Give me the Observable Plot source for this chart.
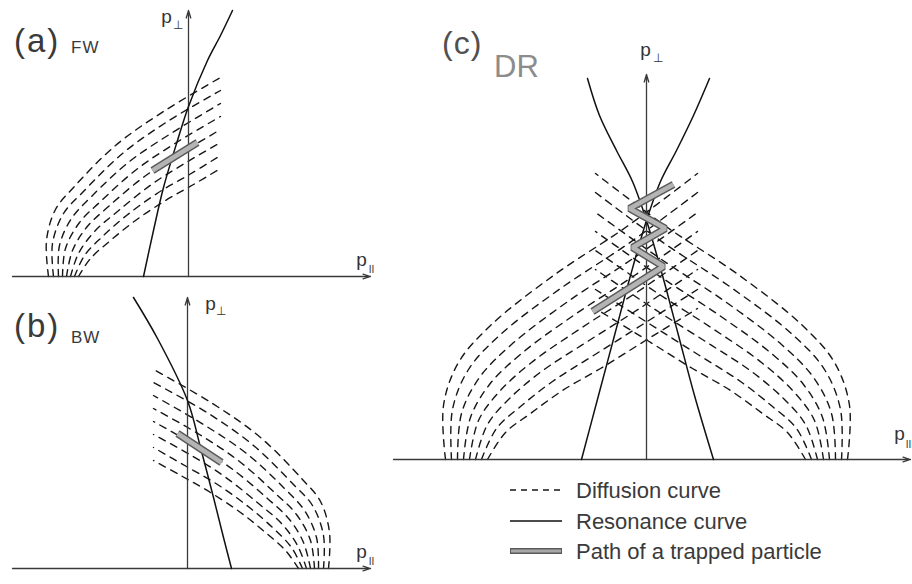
<!DOCTYPE html>
<html><head><meta charset="utf-8">
<script src="https://cdn.jsdelivr.net/npm/d3@7"></script>
<script src="https://cdn.jsdelivr.net/npm/@observablehq/plot@0.6"></script>
<style>
html,body{margin:0;padding:0;background:#fff;}
#fig{position:relative;width:912px;height:584px;overflow:hidden;font-family:"Liberation Sans",Arial,Helvetica,sans-serif;}
.panel{position:absolute;}
.panel svg{overflow:visible;}
.lbl{position:absolute;white-space:nowrap;line-height:1;}
</style></head><body><div id="fig"></div>
<script>
// ---------- data (p_parallel, p_perp in arbitrary units) ----------
const panelTags = ["(a)", "(b)", "(c)"];
const waveTags = ["FW", "BW", "DR"];
const legendLabels = ["Diffusion curve", "Resonance curve", "Path of a trapped particle"];

// axis extents: [p_par min, p_par max, p_perp max]
const fwAxes = [-17.6, 18.2, 26.6];
const bwAxes = [-17.5, 18.3, 27.1];
const drAxes = [-25.3, 26.4, 38.5];

// (a) forward wave
const fwDiffusion = [
  [[-14.0,0],[-14.2,3.6],[-13.3,6.7],[-11.5,8.9],[-7.3,13.1],[-2.5,16.5],[3.2,19.9]],
  [[-13.5,0],[-13.6,3.3],[-12.5,6.3],[-10.6,8.4],[-6.6,12.3],[-2.1,15.5],[3.2,18.6]],
  [[-13.0,0],[-12.9,3.1],[-11.7,5.8],[-9.7,8.0],[-5.9,11.5],[-1.6,14.4],[3.2,17.3]],
  [[-12.6,0],[-12.3,2.8],[-10.9,5.4],[-8.8,7.5],[-5.2,10.7],[-1.2,13.4],[3.2,16.0]],
  [[-12.2,0],[-11.6,2.6],[-10.2,4.9],[-8.0,7.0],[-4.4,10.0],[-0.8,12.3],[3.2,14.7]],
  [[-11.8,0],[-11.0,2.3],[-9.4,4.5],[-7.1,6.5],[-3.7,9.2],[-0.4,11.3],[3.2,13.4]],
  [[-11.4,0],[-10.4,2.1],[-8.6,4.0],[-6.2,6.1],[-3.0,8.4],[0.1,10.2],[3.2,12.1]],
  [[-11.0,0],[-9.8,1.8],[-7.8,3.6],[-5.3,5.6],[-2.3,7.6],[0.5,9.2],[3.2,10.8]]
];
const fwResonance = [[-4.5,0],[-3.5,4.6],[-2.5,8.9],[-1.1,13.6],[0,17.0],[1.9,21.6],[3.2,24.1],[4.4,26.6]];
const fwPath = [[-3.6,10.6],[0.9,13.4]];

// (b) backward wave
const bwDiffusion = [
  [[14.1,0],[14.2,3.6],[13.3,6.7],[11.5,8.9],[7.3,13.1],[2.5,16.5],[-3.4,19.9]],
  [[13.6,0],[13.6,3.3],[12.5,6.3],[10.6,8.4],[6.6,12.3],[2.1,15.5],[-3.4,18.6]],
  [[13.1,0],[12.9,3.1],[11.7,5.8],[9.7,8.0],[5.9,11.5],[1.6,14.4],[-3.4,17.3]],
  [[12.7,0],[12.3,2.8],[10.9,5.4],[8.8,7.5],[5.2,10.7],[1.2,13.4],[-3.4,16.0]],
  [[12.3,0],[11.6,2.6],[10.2,4.9],[8.0,7.0],[4.4,10.0],[0.8,12.3],[-3.4,14.7]],
  [[11.9,0],[11.0,2.3],[9.4,4.5],[7.1,6.5],[3.7,9.2],[0.4,11.3],[-3.4,13.4]],
  [[11.5,0],[10.4,2.1],[8.6,4.0],[6.2,6.1],[3.0,8.4],[-0.1,10.2],[-3.4,12.1]],
  [[11.1,0],[9.8,1.8],[7.8,3.6],[5.3,5.6],[2.3,7.6],[-0.5,9.2],[-3.4,10.8]]
];
const bwResonance = [[-5.4,27.1],[-3.0,23.0],[0,16.8],[1.3,12.1],[2.6,7.1],[3.6,3.1],[4.4,0]];
const bwPath = [[-1.0,13.5],[3.4,10.6]];

// (c) distributed resonance
const drDiffusionLeft = [
  [[-20.1,0],[-20.3,5.4],[-18.8,9.7],[-15.6,13.4],[-9.3,18.4],[-2.1,23.2],[5.1,28.6]],
  [[-19.5,0],[-19.4,5.0],[-17.8,9.0],[-14.6,12.5],[-8.6,17.1],[-1.8,21.6],[5.1,26.7]],
  [[-18.9,0],[-18.5,4.6],[-16.7,8.2],[-13.5,11.5],[-8.0,15.7],[-1.5,20.0],[5.1,24.7]],
  [[-18.3,0],[-17.6,4.2],[-15.7,7.5],[-12.5,10.6],[-7.3,14.4],[-1.2,18.4],[5.1,22.8]],
  [[-17.7,0],[-16.8,3.9],[-14.7,6.8],[-11.5,9.7],[-6.6,13.1],[-1.0,16.7],[5.1,20.9]],
  [[-17.1,0],[-15.9,3.5],[-13.7,6.1],[-10.5,8.8],[-5.9,11.8],[-0.7,15.1],[5.1,19.0]],
  [[-16.5,0],[-15.0,3.1],[-12.6,5.3],[-9.4,7.8],[-5.3,10.4],[-0.4,13.5],[5.1,17.0]],
  [[-15.9,0],[-14.1,2.7],[-11.6,4.6],[-8.4,6.9],[-4.6,9.1],[-0.1,11.9],[5.1,15.1]]
];
const drDiffusionRight = [
  [[20.1,0],[20.3,5.4],[18.8,9.7],[15.6,13.4],[9.3,18.4],[2.1,23.2],[-5.1,28.6]],
  [[19.5,0],[19.4,5.0],[17.8,9.0],[14.6,12.5],[8.6,17.1],[1.8,21.6],[-5.1,26.7]],
  [[18.9,0],[18.5,4.6],[16.7,8.2],[13.5,11.5],[8.0,15.7],[1.5,20.0],[-5.1,24.7]],
  [[18.3,0],[17.6,4.2],[15.7,7.5],[12.5,10.6],[7.3,14.4],[1.2,18.4],[-5.1,22.8]],
  [[17.7,0],[16.8,3.9],[14.7,6.8],[11.5,9.7],[6.6,13.1],[1.0,16.7],[-5.1,20.9]],
  [[17.1,0],[15.9,3.5],[13.7,6.1],[10.5,8.8],[5.9,11.8],[0.7,15.1],[-5.1,19.0]],
  [[16.5,0],[15.0,3.1],[12.6,5.3],[9.4,7.8],[5.3,10.4],[0.4,13.5],[-5.1,17.0]],
  [[15.9,0],[14.1,2.7],[11.6,4.6],[8.4,6.9],[4.6,9.1],[0.1,11.9],[-5.1,15.1]]
];
const drResonanceUp = [[-6.5,0],[-4.8,6.4],[-3.2,12.4],[-1.6,18.4],[0,23.9],[1.4,27.8],[3.0,30.9],[4.7,34.4],[6.3,38.1]];
const drResonanceDown = [[6.7,0],[4.8,6.4],[3.2,12.4],[1.6,18.4],[0,23.9],[-1.4,27.8],[-3.0,30.9],[-4.7,34.4],[-5.9,38.1]];
const drPath = [[2.7,27.5],[-1.7,25.1],[1.9,23.1],[-1.4,21.2],[1.7,19.3],[-5.4,14.8]];

// ---------- drawing ----------
const FONT = '"Liberation Sans", Arial, Helvetica, sans-serif';
const rows = curves => curves.flatMap((c, i) => c.map(([x, y]) => ({x, y, id: i})));
const pts = c => c.map(([x, y]) => ({x, y}));

function panel(o) {
  const [xMin, xMax, yMax] = o.axes;
  const txt = {fill: "#333", lineAnchor: "bottom", textAnchor: "middle"};
  const marks = [
    Plot.line(rows(o.diffusion), {x: "x", y: "y", z: "id", curve: "catmull-rom",
      stroke: "#161616", strokeWidth: 1.4, strokeDasharray: "7,6"}),
    Plot.arrow([{x1: xMin, y1: 0, x2: xMax, y2: 0}], {x1: "x1", y1: "y1", x2: "x2", y2: "y2",
      stroke: "#3a3a3a", strokeWidth: 1.3, headLength: 9, headAngle: 34}),
    Plot.arrow([{x1: 0, y1: 0, x2: 0, y2: yMax}], {x1: "x1", y1: "y1", x2: "x2", y2: "y2",
      stroke: "#3a3a3a", strokeWidth: 1.3, headLength: 9, headAngle: 34}),
    ...o.resonances.map(r => Plot.line(pts(r), {x: "x", y: "y", curve: "catmull-rom",
      stroke: "#111", strokeWidth: 1.5})),
    Plot.line(pts(o.path), {x: "x", y: "y", stroke: "#5a5a5a", strokeWidth: 7.5, strokeLinejoin: "miter", strokeLinecap: "butt"}),
    Plot.line(pts(o.path), {x: "x", y: "y", stroke: "#b4b4b4", strokeWidth: 4.5, strokeLinejoin: "miter", strokeLinecap: "butt"}),
    // axis labels
    Plot.text([{x: 0, y: yMax, t: "p"}], {x: "x", y: "y", text: "t", dx: o.perp[0], dy: o.perp[1], fontSize: 19, ...txt}),
    Plot.text([{x: 0, y: yMax, t: "\u22A5"}], {x: "x", y: "y", text: "t", dx: o.perp[2], dy: o.perp[3], fontSize: 12, ...txt}),
    Plot.text([{x: xMax, y: 0, t: "p"}], {x: "x", y: "y", text: "t", dx: o.par[0], dy: o.par[1], fontSize: 19, ...txt}),
    Plot.text([{x: xMax, y: 0, t: "II"}], {x: "x", y: "y", text: "t", dx: o.par[2], dy: o.par[3], fontSize: 10, ...txt})
  ];
  const svg = Plot.plot({
    width: o.width, height: o.height, margin: 0,
    x: {domain: o.xDomain, axis: null},
    y: {domain: o.yDomain, axis: null},
    style: {fontFamily: FONT, background: "transparent", overflow: "visible"},
    marks
  });
  const div = document.createElement("div");
  div.className = "panel";
  div.style.left = o.left + "px";
  div.style.top = o.top + "px";
  div.appendChild(svg);
  document.getElementById("fig").appendChild(div);
}

panel({left: 0, top: 0, width: 380, height: 290, xDomain: [-18.8, 19.2], yDomain: [-1.4, 27.6],
  axes: fwAxes, diffusion: fwDiffusion, resonances: [fwResonance], path: fwPath,
  perp: [-22, 12, -11, 18], par: [-9, -11, 1, -4]});
panel({left: 0, top: 295, width: 380, height: 289, xDomain: [-18.7, 19.3], yDomain: [-1.6, 27.3],
  axes: bwAxes, diffusion: bwDiffusion, resonances: [bwResonance], path: bwPath,
  perp: [23, 12, 33, 17], par: [-9, -11, 1, -4]});
panel({left: 385, top: 0, width: 527, height: 470, xDomain: [-26.1, 26.6], yDomain: [-1.1, 45.9],
  axes: drAxes, diffusion: drDiffusionLeft.concat(drDiffusionRight),
  resonances: [drResonanceUp, drResonanceDown], path: drPath,
  perp: [-1, -19, 11, -13], par: [-11, -20, -2, -12]});

// panel tags
const fig = document.getElementById("fig");
function label(text, left, top, size, color, spacing) {
  const s = document.createElement("div");
  s.className = "lbl";
  s.textContent = text;
  s.style.left = left + "px"; s.style.top = top + "px";
  s.style.fontSize = size + "px"; s.style.color = color;
  s.style.letterSpacing = (spacing || 0) + "px";
  fig.appendChild(s);
}
label(panelTags[0], 14, 24, 33, "#3a3a3a", 2);
label(waveTags[0], 71, 39, 17, "#3a3a3a", 1);
label(panelTags[1], 14, 309, 33, "#3a3a3a", 2);
label(waveTags[1], 71, 329, 17, "#3a3a3a", 1);
label(panelTags[2], 442, 27, 32, "#505050", 1);
label(waveTags[2], 494, 51, 31, "#8c8c8c", 0);

// legend
const leg = d3.select("#fig").append("svg")
  .attr("width", 412).attr("height", 114)
  .style("position", "absolute").style("left", "500px").style("top", "470px")
  .style("font-family", FONT);
const legY = [20, 51, 81];
leg.append("line").attr("x1", 10).attr("x2", 62).attr("y1", legY[0]).attr("y2", legY[0])
  .attr("stroke", "#161616").attr("stroke-width", 1.4).attr("stroke-dasharray", "6,5");
leg.append("line").attr("x1", 10).attr("x2", 62).attr("y1", legY[1]).attr("y2", legY[1])
  .attr("stroke", "#111").attr("stroke-width", 1.4);
leg.append("line").attr("x1", 10).attr("x2", 62).attr("y1", legY[2]).attr("y2", legY[2])
  .attr("stroke", "#5a5a5a").attr("stroke-width", 6);
leg.append("line").attr("x1", 11).attr("x2", 61).attr("y1", legY[2]).attr("y2", legY[2])
  .attr("stroke", "#a8a8a8").attr("stroke-width", 3);
leg.selectAll("text.l").data(legendLabels).join("text").attr("class", "l")
  .attr("x", 76).attr("y", (d, i) => legY[i] + 7.5)
  .attr("font-size", 22).attr("fill", "#3a3a3a").text(d => d);
</script></body></html>
